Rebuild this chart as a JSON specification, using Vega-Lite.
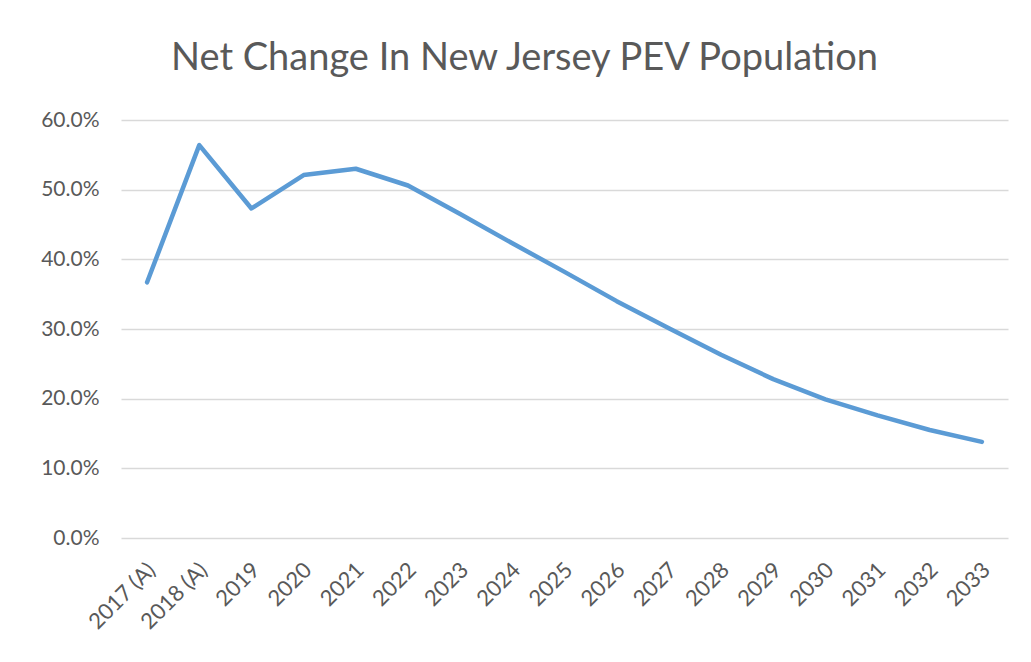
{
  "$schema": "https://vega.github.io/schema/vega-lite/v6.json",
  "autosize": {"type": "none"},
  "width": 887,
  "height": 418,
  "padding": {"left": 121, "top": 120, "right": 23, "bottom": 124},
  "background": "white",
  "title": {
    "text": "Net Change In New Jersey PEV Population",
    "font": "Lato",
    "fontSize": 38,
    "fontWeight": "normal",
    "color": "#595959",
    "anchor": "middle",
    "dx": -40,
    "offset": 31
  },
  "data": {
    "values": [
      {"year": "2017 (A)", "value": 0.367},
      {"year": "2018 (A)", "value": 0.564},
      {"year": "2019", "value": 0.473},
      {"year": "2020", "value": 0.521},
      {"year": "2021", "value": 0.530},
      {"year": "2022", "value": 0.506},
      {"year": "2023", "value": 0.465},
      {"year": "2024", "value": 0.423},
      {"year": "2025", "value": 0.382},
      {"year": "2026", "value": 0.340},
      {"year": "2027", "value": 0.301},
      {"year": "2028", "value": 0.263},
      {"year": "2029", "value": 0.228},
      {"year": "2030", "value": 0.199},
      {"year": "2031", "value": 0.176},
      {"year": "2032", "value": 0.155},
      {"year": "2033", "value": 0.138}
    ]
  },
  "mark": {"type": "line", "color": "#5b9bd5", "strokeWidth": 4.5, "strokeCap": "round", "strokeJoin": "round"},
  "encoding": {
    "x": {
      "field": "year",
      "type": "ordinal",
      "sort": null,
      "scale": {"padding": 0.5},
      "axis": {
        "title": null,
        "labelAngle": -45,
        "labelAlign": "right",
        "labelBaseline": "top",
        "labelFont": "Lato",
        "labelFontSize": 22,
        "labelColor": "#595959",
        "labelPadding": 21,
        "labelOffset": -3,
        "ticks": false,
        "domain": false,
        "grid": false
      }
    },
    "y": {
      "field": "value",
      "type": "quantitative",
      "scale": {"domain": [0, 0.6], "nice": false},
      "axis": {
        "title": null,
        "format": ".1%",
        "values": [0, 0.1, 0.2, 0.3, 0.4, 0.5, 0.6],
        "labelFont": "Lato",
        "labelFontSize": 21,
        "labelColor": "#595959",
        "labelPadding": 22,
        "ticks": false,
        "domain": false,
        "grid": true,
        "gridColor": "#d9d9d9",
        "gridWidth": 1.3
      }
    }
  },
  "config": {"view": {"stroke": null}}
}
